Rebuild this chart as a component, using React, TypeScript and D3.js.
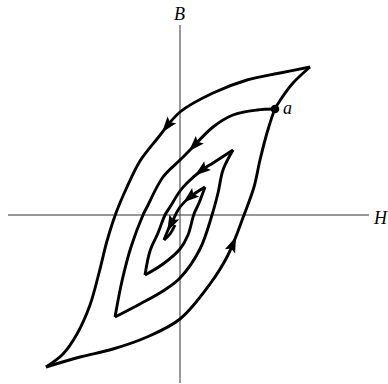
import React, { useEffect, useRef } from 'react';
import * as d3 from 'd3';

// branch points in (H, B) units
const outerTop: [number, number][] = [
  [13.0, 14.8], [10.0, 14.2], [6.7, 13.5], [3.3, 12.2], [0, 10.3], [-2.3, 7.6],
  [-4.0, 5.4], [-5.3, 2.8], [-6.4, 0.2], [-7.3, -2.6], [-8.1, -5.8], [-9.0, -9.0],
  [-10.3, -11.9], [-11.7, -13.9], [-13.4, -15.2],
];
const outerBottom: [number, number][] = [
  [-13.4, -15.2], [-10.0, -14.2], [-6.7, -13.4], [-3.3, -12.2], [0, -10.4],
  [3.0, -6.9], [4.8, -4.0], [6.4, 0], [7.4, 2.8], [8.0, 5.5], [8.7, 8.2],
  [9.5, 10.6], [10.1, 11.6], [11.3, 13.2], [13.0, 14.8],
];
const loop2Left: [number, number][] = [
  [9.5, 10.6], [7.7, 10.5], [5.3, 10.0], [3.3, 8.8], [1.0, 6.5], [0, 5.5],
  [-1.7, 3.8], [-3.3, 0.8], [-3.7, 0], [-4.9, -3.2], [-5.8, -6.6], [-6.5, -10.2],
];
const loop2Right: [number, number][] = [
  [-6.5, -10.2], [-4.0, -8.9], [-1.7, -7.6], [0, -6.3], [2.0, -3.4], [3.2, 0],
  [3.8, 2.2], [4.3, 4.5], [5.3, 6.5],
];
const loop3Left: [number, number][] = [
  [5.3, 6.5], [3.3, 5.2], [2.2, 4.5], [0.7, 3.2], [0, 2.4], [-1.0, 0.8],
  [-1.5, 0], [-2.2, -1.8], [-3.0, -3.6], [-3.5, -6.0],
];
const loop3Right: [number, number][] = [
  [-3.5, -6.0], [-1.7, -4.9], [0, -3.4], [0.8, -2.0], [1.4, 0.1], [1.9, 1.2], [2.5, 2.8],
];
const loop4Left: [number, number][] = [
  [2.5, 2.8], [1.0, 1.8], [0, 0.8], [-0.6, -0.3], [-1.2, -1.5], [-1.6, -2.5],
];
const loop4Right: [number, number][] = [
  [-1.6, -2.5], [-1.0, -1.9], [-0.5, -1.0],
];

const branches = [outerTop, outerBottom, loop2Left, loop2Right, loop3Left, loop3Right, loop4Left, loop4Right];
// arrows: [branch index, fraction along branch]
const arrows: [number, number][] = [[0, 0.37], [1, 0.55], [2, 0.33], [4, 0.25], [6, 0.3], [6, 0.78]];
const pointA: [number, number] = [9.5, 10.6];

const W = 388;
const H = 384;

export default function App() {
  const ref = useRef<SVGSVGElement>(null);

  useEffect(() => {
    const svg = d3.select(ref.current);
    svg.selectAll('*').remove();
    const x = d3.scaleLinear().domain([-18, 20.8]).range([0, W]);
    const y = d3.scaleLinear().domain([21.5, -16.9]).range([0, H]);

    // axes
    svg.append('line').attr('x1', x(0)).attr('x2', x(0)).attr('y1', 25).attr('y2', 383)
      .attr('stroke', '#333').attr('stroke-width', 1);
    svg.append('line').attr('x1', 8).attr('x2', 369).attr('y1', y(0)).attr('y2', y(0))
      .attr('stroke', '#333').attr('stroke-width', 1);

    const line = d3.line<[number, number]>()
      .x(d => x(d[0])).y(d => y(d[1]))
      .curve(d3.curveCatmullRom.alpha(0.5));

    const paths = branches.map(b =>
      svg.append('path').attr('d', line(b)).attr('fill', 'none')
        .attr('stroke', '#000').attr('stroke-width', 2.9).attr('stroke-linejoin', 'miter')
        .node() as SVGPathElement);

    arrows.forEach(([bi, t]) => {
      const p = paths[bi];
      const len = p.getTotalLength();
      const p1 = p.getPointAtLength(len * t);
      const p0 = p.getPointAtLength(Math.max(0, len * t - 3));
      const ang = Math.atan2(p1.y - p0.y, p1.x - p0.x) * 180 / Math.PI;
      svg.append('path').attr('d', 'M6,0 L-10,-5.5 L-7,0 L-10,5.5 Z')
        .attr('transform', `translate(${p1.x},${p1.y}) rotate(${ang})`)
        .attr('fill', '#000');
    });

    svg.append('circle').attr('cx', x(pointA[0])).attr('cy', y(pointA[1])).attr('r', 4.3).attr('fill', '#000');

    const label = (tx: string, px: number, py: number) =>
      svg.append('text').attr('x', px).attr('y', py).text(tx)
        .attr('font-family', '"Liberation Serif", serif').attr('font-style', 'italic')
        .attr('font-size', 18).attr('fill', '#000');
    label('a', x(pointA[0]) + 8, y(pointA[1]) + 5);
    label('B', x(0) - 6, 20);
    label('H', 374, y(0) + 9);
  }, []);

  return (
    <div style={{ position: 'fixed', left: 0, top: 0 }}>
      <svg ref={ref} width={W} height={H} style={{ display: 'block', background: '#fff' }} />
    </div>
  );
}
